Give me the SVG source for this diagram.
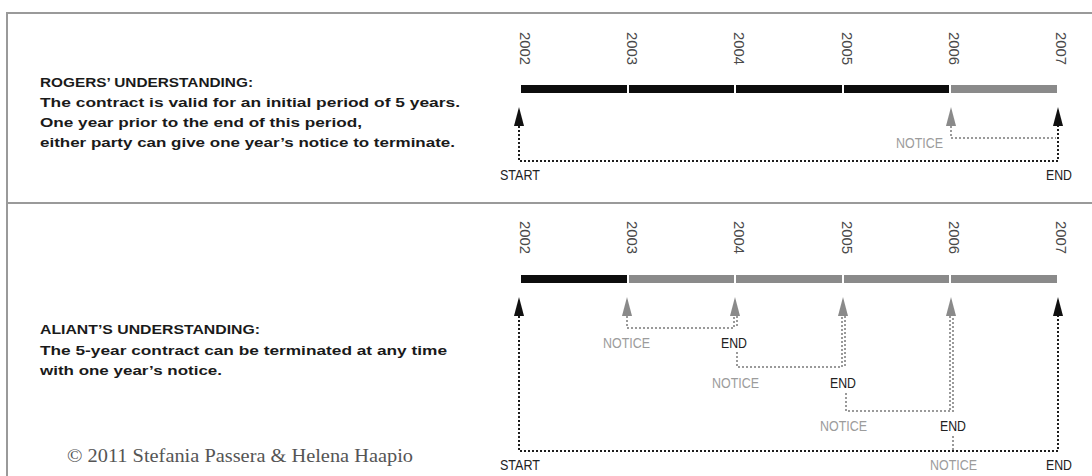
<svg xmlns="http://www.w3.org/2000/svg" width="1092" height="476" viewBox="0 0 1092 476">
<defs>
<style>
.frame{stroke:#9a9a9a;stroke-width:2;fill:none}
.hd{font-family:"Liberation Sans",Arial,sans-serif;font-weight:bold;font-size:13.5px;fill:#1a1a1a}
.yr{font-family:"Liberation Sans",Arial,sans-serif;font-size:14px;fill:#4a4a4a}
.lbl{font-family:"Liberation Sans",Arial,sans-serif;font-size:15.5px}
.dark{fill:#222}
.gry{fill:#9c9c9c}
.blk{fill:#0d0d0d}
.gbar{fill:#8a8a8a}
.dk{stroke:#1e1e1e;stroke-width:2;stroke-dasharray:2 2;fill:none}
.dg{stroke:#9a9a9a;stroke-width:2;stroke-dasharray:2 2;fill:none}
.ab{fill:#111}
.ag{fill:#8a8a8a}
.copy{font-family:"Liberation Serif","Times New Roman",serif;font-size:19px;fill:#555}
</style>
</defs>
<rect width="1092" height="476" fill="#fff"/>
<g id="frame">
<path class="frame" d="M7 476 V13 H1092"/>
<path class="frame" d="M7 203 H1092"/>
</g>

<g id="rogers-text">
<text class="hd" x="40" y="87" textLength="213" lengthAdjust="spacingAndGlyphs">ROGERS’ UNDERSTANDING:</text>
<text class="hd" x="40" y="107" textLength="420" lengthAdjust="spacingAndGlyphs">The contract is valid for an initial period of 5 years.</text>
<text class="hd" x="40" y="127" textLength="322" lengthAdjust="spacingAndGlyphs">One year prior to the end of this period,</text>
<text class="hd" x="40" y="147" textLength="415" lengthAdjust="spacingAndGlyphs">either party can give one year’s notice to terminate.</text>
</g>

<g id="aliant-text">
<text class="hd" x="40" y="334" textLength="220" lengthAdjust="spacingAndGlyphs">ALIANT’S UNDERSTANDING:</text>
<text class="hd" x="40" y="355" textLength="407" lengthAdjust="spacingAndGlyphs">The 5-year contract can be terminated at any time</text>
<text class="hd" x="40" y="375" textLength="182" lengthAdjust="spacingAndGlyphs">with one year’s notice.</text>
</g>

<g id="copyright">
<text class="copy" x="67" y="462" textLength="346" lengthAdjust="spacingAndGlyphs">© 2011 Stefania Passera &amp; Helena Haapio</text>
</g>

<g id="top-years">
<text class="yr" transform="translate(520,32) rotate(90)" textLength="33" lengthAdjust="spacingAndGlyphs">2002</text>
<text class="yr" transform="translate(627,32) rotate(90)" textLength="33" lengthAdjust="spacingAndGlyphs">2003</text>
<text class="yr" transform="translate(734,32) rotate(90)" textLength="33" lengthAdjust="spacingAndGlyphs">2004</text>
<text class="yr" transform="translate(842,32) rotate(90)" textLength="33" lengthAdjust="spacingAndGlyphs">2005</text>
<text class="yr" transform="translate(949,32) rotate(90)" textLength="33" lengthAdjust="spacingAndGlyphs">2006</text>
<text class="yr" transform="translate(1056,32) rotate(90)" textLength="33" lengthAdjust="spacingAndGlyphs">2007</text>
</g>

<g id="top-bar">
<rect class="blk" x="521" y="85" width="106" height="8"/>
<rect class="blk" x="629" y="85" width="105" height="8"/>
<rect class="blk" x="736" y="85" width="106" height="8"/>
<rect class="blk" x="844" y="85" width="105" height="8"/>
<rect class="gbar" x="951" y="85" width="106" height="8"/>
</g>

<g id="top-connectors">
<path class="dk" d="M519 126 V161 H1058 V126"/>
<path class="dg" d="M951 126 V138 H1056"/>
</g>

<g id="top-arrows">
<polygon class="ab" points="519,107 514,126 524,126"/>
<polygon class="ag" points="951,107 946,126 956,126"/>
<polygon class="ab" points="1058,107 1053,126 1063,126"/>
</g>

<g id="top-labels">
<text class="lbl dark" x="500" y="180" textLength="40" lengthAdjust="spacingAndGlyphs">START</text>
<text class="lbl gry" x="896" y="148" textLength="47" lengthAdjust="spacingAndGlyphs">NOTICE</text>
<text class="lbl dark" x="1046" y="180" textLength="26" lengthAdjust="spacingAndGlyphs">END</text>
</g>

<g id="bottom-years">
<text class="yr" transform="translate(520,221) rotate(90)" textLength="33" lengthAdjust="spacingAndGlyphs">2002</text>
<text class="yr" transform="translate(627,221) rotate(90)" textLength="33" lengthAdjust="spacingAndGlyphs">2003</text>
<text class="yr" transform="translate(734,221) rotate(90)" textLength="33" lengthAdjust="spacingAndGlyphs">2004</text>
<text class="yr" transform="translate(842,221) rotate(90)" textLength="33" lengthAdjust="spacingAndGlyphs">2005</text>
<text class="yr" transform="translate(949,221) rotate(90)" textLength="33" lengthAdjust="spacingAndGlyphs">2006</text>
<text class="yr" transform="translate(1056,221) rotate(90)" textLength="33" lengthAdjust="spacingAndGlyphs">2007</text>
</g>

<g id="bottom-bar">
<rect class="blk" x="521" y="275" width="106" height="8"/>
<rect class="gbar" x="629" y="275" width="105" height="8"/>
<rect class="gbar" x="736" y="275" width="106" height="8"/>
<rect class="gbar" x="844" y="275" width="105" height="8"/>
<rect class="gbar" x="951" y="275" width="106" height="8"/>
</g>

<g id="bottom-connectors">
<path class="dk" d="M519 316 V451 H1058 V316"/>
<path class="dg" d="M627 316 V328 H734 V316"/>
<path class="dg" d="M737 316 V328"/>
<path class="dg" d="M737 352 V367 H842 V316"/>
<path class="dg" d="M845 316 V367"/>
<path class="dg" d="M846 393 V411 H953 V316"/>
<path class="dg" d="M950 316 V411"/>
<path class="dg" d="M953 436 V450"/>
</g>

<g id="bottom-arrows">
<polygon class="ab" points="519,297 514,316 524,316"/>
<polygon class="ag" points="627,297 622,316 632,316"/>
<polygon class="ag" points="735,297 730,316 740,316"/>
<polygon class="ag" points="843,297 838,316 848,316"/>
<polygon class="ag" points="951,297 946,316 956,316"/>
<polygon class="ab" points="1058,297 1053,316 1063,316"/>
</g>

<g id="bottom-labels">
<text class="lbl gry" x="603" y="348" textLength="47" lengthAdjust="spacingAndGlyphs">NOTICE</text>
<text class="lbl dark" x="721" y="348" textLength="26" lengthAdjust="spacingAndGlyphs">END</text>
<text class="lbl gry" x="712" y="388" textLength="47" lengthAdjust="spacingAndGlyphs">NOTICE</text>
<text class="lbl dark" x="830" y="388" textLength="26" lengthAdjust="spacingAndGlyphs">END</text>
<text class="lbl gry" x="820" y="431" textLength="47" lengthAdjust="spacingAndGlyphs">NOTICE</text>
<text class="lbl dark" x="940" y="431" textLength="26" lengthAdjust="spacingAndGlyphs">END</text>
<text class="lbl dark" x="500" y="470" textLength="40" lengthAdjust="spacingAndGlyphs">START</text>
<text class="lbl gry" x="930" y="470" textLength="47" lengthAdjust="spacingAndGlyphs">NOTICE</text>
<text class="lbl dark" x="1046" y="470" textLength="26" lengthAdjust="spacingAndGlyphs">END</text>
</g>
</svg>
